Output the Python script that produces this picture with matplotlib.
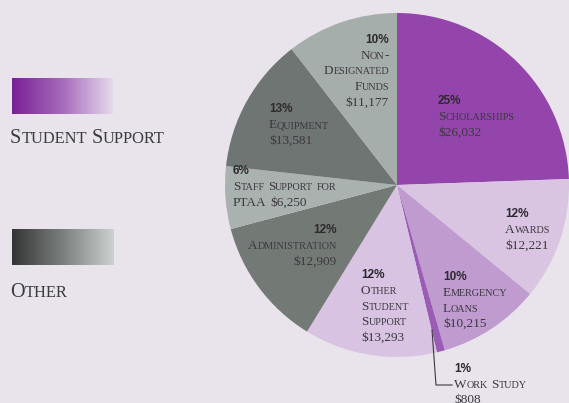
import numpy as np
import matplotlib.pyplot as plt
from matplotlib.colors import LinearSegmentedColormap

# Data ---------------------------------------------------------------
categories = ["Scholarships", "Awards", "Emergency Loans", "Work Study",
              "Other Student Support", "Administration",
              "Staff Support for PTAA", "Equipment", "Non-Designated Funds"]
amounts = [26032, 12221, 10215, 808, 13293, 12909, 6250, 13581, 11177]
percents = ["25%", "12%", "10%", "1%", "12%", "12%", "6%", "13%", "10%"]
label_lines = [["Scholarships", "$26,032"],
               ["Awards", "$12,221"],
               ["Emergency", "Loans", "$10,215"],
               ["Work Study", "$808"],
               ["Other", "Student", "Support", "$13,293"],
               ["Administration", "$12,909"],
               ["Staff Support for", "PTAA $6,250"],
               ["Equipment", "$13,581"],
               ["Non-", "Designated", "Funds", "$11,177"]]
groups = ["Student Support", "Other"]

# Styles -------------------------------------------------------------
bg = '#e9e3ec'
colors = ['#9445ab', '#d9c4e2', '#bf9bcf', '#9a5cb5', '#d8c4e2',
          '#737a76', '#aab2af', '#6f7572', '#a6aeab']
# baseline of the percent line (x, y in image pixels) and alignment
anchors = [(438, 104, 'left'), (505, 217, 'left'), (443, 280, 'left'),
           (454, 372, 'left'), (361, 278, 'left'), (337, 233, 'right'),
           (233, 174, 'left'), (269, 112, 'left'), (389, 43, 'right')]
H = 403
serif = 'Liberation Serif'
sans = 'Liberation Sans'
txtcol = '#3b383f'

fig = plt.figure(figsize=(5.69, 4.03), dpi=100, facecolor=bg)
ax = fig.add_axes([0, 0, 1, 1])
ax.set_facecolor(bg)
ax.set_xlim(0, 569)
ax.set_ylim(0, H)
renderer = fig.canvas.get_renderer()


def smallcaps(x, y, s, big, small, ha='left', color=txtcol):
    # fake small caps: lowercase letters drawn as smaller capitals
    # (axes spans the whole figure, so one data unit = one pixel)
    pieces = []
    space = big * 0.25 * 100 / 72
    cx = 0
    for w, word in enumerate(s.split(' ')):
        if w > 0:
            cx += space
        runs = []
        for ch in word:
            low = ch.islower()
            if runs and runs[-1][1] == low:
                runs[-1][0] += ch
            else:
                runs.append([ch, low])
        for txt, low in runs:
            t = ax.text(0, 0, txt.upper(), fontsize=small if low else big,
                        family=serif, color=color, va='baseline', ha='left')
            wpx = t.get_window_extent(renderer).width
            pieces.append((t, cx))
            cx += wpx
    x0 = x - cx if ha == 'right' else x
    for t, off in pieces:
        t.set_position((x0 + off, H - y))


ax.pie(amounts, colors=colors, startangle=90, counterclock=False,
       center=(397, H - 185), radius=172, wedgeprops=dict(linewidth=0))

# labels
for pct, lines, (x, y, ha) in zip(percents, label_lines, anchors):
    ax.text(x, H - y, pct, ha=ha, va='baseline', fontsize=8.5, fontweight='bold',
            family=sans, color='#2d2a2e')
    for j, ln in enumerate(lines):
        smallcaps(x, y + 16 + j * 15.5, ln, 9.5, 7.3, ha=ha)

# leader line for work study
ax.plot([432, 436, 452], [H - 330, H - 385, H - 385], color='#3b383f', lw=0.8)

# legend blocks with gradients
grad = np.linspace(0, 1, 256).reshape(1, -1)
cm_purple = LinearSegmentedColormap.from_list('p', ['#7a2096', '#a66bbb', '#e6daed'])
cm_gray = LinearSegmentedColormap.from_list('g', ['#333535', '#7b807e', '#cdd1cf'])
ax.imshow(grad, cmap=cm_purple, extent=(12, 113, H - 114, H - 78), aspect='auto')
ax.imshow(grad, cmap=cm_gray, extent=(12, 114, H - 265, H - 229), aspect='auto')
smallcaps(10, 143, groups[0], 14.5, 11.8, color='#3a3a3e')
smallcaps(10, 297, groups[1], 14.5, 11.8, color='#3a3a3e')

ax.set_xlim(0, 569)
ax.set_ylim(0, H)
ax.set_aspect('equal')
ax.axis('off')

fig.savefig('out.png', dpi=100, facecolor=bg)
